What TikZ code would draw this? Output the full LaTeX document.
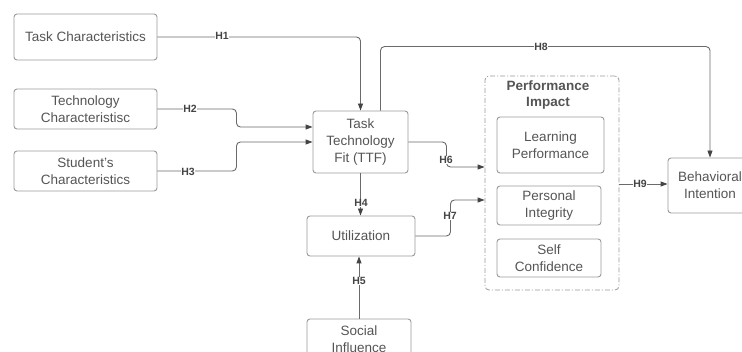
\documentclass[tikz,border=0pt]{standalone}
\usepackage{fontspec}
\setmainfont{Liberation Sans}
\usetikzlibrary{arrows.meta,calc}
\definecolor{boxc}{HTML}{9A9A9A}
\definecolor{txtc}{HTML}{555555}
\definecolor{linec}{HTML}{6A6A6A}
\definecolor{lblc}{HTML}{444444}
\tikzset{
  box/.style={draw=boxc, line width=0.9pt, rounded corners=3pt, align=center, text=txtc,
    font=\fontsize{13.5}{17}\selectfont, inner sep=0pt},
  groupbox/.style={draw=boxc, line width=0.8pt, rounded corners=4pt,
    dash pattern=on 5pt off 2pt on 1pt off 2pt, inner sep=0pt},
  conn/.style={draw=linec, line width=0.9pt, rounded corners=4pt,
    -{Triangle[length=7pt,width=5pt,color=lblc]}},
  lbl/.style={fill=white, inner sep=0.5pt, text=lblc, font=\fontsize{10.5}{12}\selectfont\bfseries}
}
\begin{document}
\begin{tikzpicture}[x=1pt,y=-1pt]
\clip (0,0) rectangle (742,352);
\fill[white] (0,0) rectangle (742,352);
% nodes
\node[box, minimum width=143pt, minimum height=46pt] (taskc) at (85.5,37) {Task Characteristics};
\node[box, minimum width=143pt, minimum height=40pt] (techc) at (85.5,109) {Technology\\Characteristisc};
\node[box, minimum width=143pt, minimum height=40pt] (stud) at (85.5,171) {Student's\\Characteristics};
\node[box, minimum width=95pt, minimum height=62pt] (ttf) at (360.5,142) {Task\\Technology\\Fit (TTF)};
\node[box, minimum width=108pt, minimum height=40pt] (util) at (361,236) {Utilization};
\node[box, minimum width=104pt, minimum height=40pt] (soc) at (359,339) {Social\\Influence};
\node[groupbox, minimum width=134pt, minimum height=214pt] (perf) at (552,183) {};
\node[align=center, text=txtc, font=\fontsize{13.5}{16}\selectfont\bfseries] (perft) at (548,95) {Performance\\Impact};
\node[box, minimum width=107pt, minimum height=56pt] (lp) at (550.5,145) {Learning\\Performance};
\node[box, minimum width=104pt, minimum height=39pt] (pi) at (549,205.5) {Personal\\Integrity};
\node[box, minimum width=104pt, minimum height=38pt] (sc) at (549,258) {Self\\Confidence};
\node[box, minimum width=84pt, minimum height=55pt] (bi) at (710,185.5) {Behavioral\\Intention};
% connectors
\draw[conn] (taskc.east) -| (ttf.north);
\draw[conn] (techc.east) -- ++(79,0) |- ([yshift=15pt]ttf.west);
\draw[conn] (stud.east) -- ++(79,0) |- (ttf.west);
\draw[conn] ([xshift=20pt]ttf.north) -- ++(0,-64) -| (bi.north);
\draw[conn] (ttf.south) -- (ttf.south |- util.north);
\draw[conn] (soc.north) -- (soc.north |- util.south);
\draw[conn] (ttf.east) -- ++(38,0) |- ([yshift=16pt]perf.west);
\draw[conn] (util.east) -- ++(35,0) |- ([yshift=-17pt]perf.west);
\draw[conn] (perf.east |- 0,184) -- (bi.west |- 0,184);
% labels
\node[lbl] (l1) at (222,36) {H1};
\node[lbl] (l2) at (190,109) {H2};
\node[lbl] (l3) at (188,172) {H3};
\node[lbl] (l4) at (361,203) {H4};
\node[lbl] (l5) at (359,281) {H5};
\node[lbl] (l6) at (446,160) {H6};
\node[lbl] (l7) at (450,216) {H7};
\node[lbl] (l8) at (541,47) {H8};
\node[lbl] (l9) at (640,184) {H9};
\end{tikzpicture}
\end{document}
